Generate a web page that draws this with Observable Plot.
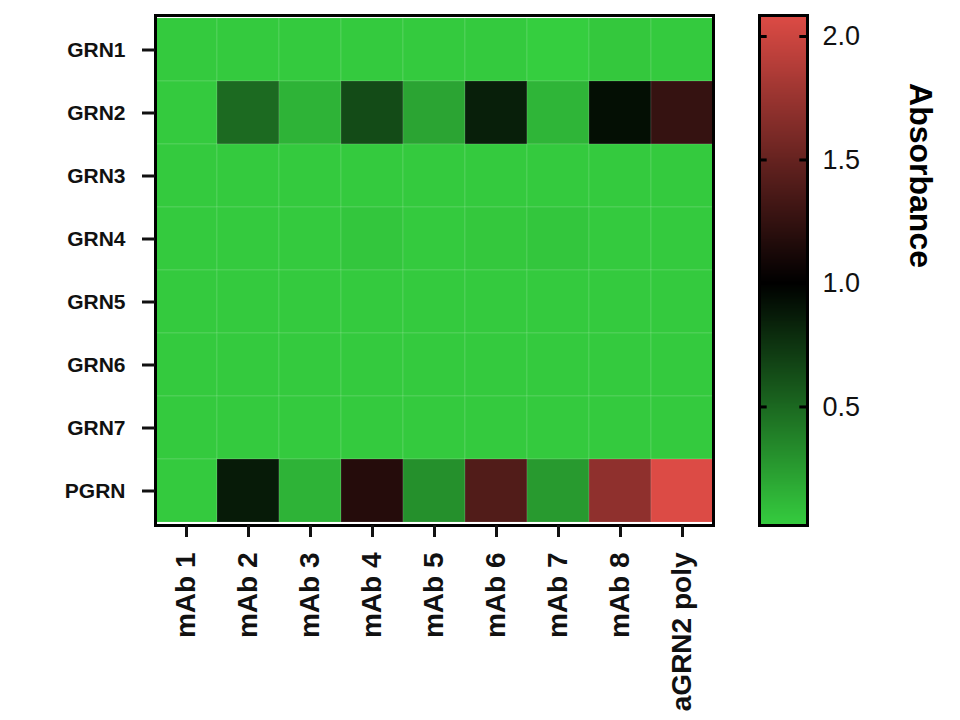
<!DOCTYPE html>
<html>
<head>
<meta charset="utf-8">
<script src="https://cdn.jsdelivr.net/npm/d3@7"></script>
<script src="https://cdn.jsdelivr.net/npm/@observablehq/plot@0.6"></script>
<style>
  html, body { margin: 0; padding: 0; background: #fff; }
  #wrap { position: relative; width: 960px; height: 720px; font-family: "Liberation Sans", Arial, Helvetica, sans-serif; }
  #main { position: absolute; left: 0; top: 0; }
  #bar { position: absolute; left: 740px; top: 0; }
</style>
</head>
<body>
<div id="wrap"><div id="main"></div><div id="bar"></div></div>
<script>
// Categories
const antigens = ["GRN1", "GRN2", "GRN3", "GRN4", "GRN5", "GRN6", "GRN7", "PGRN"];
const antibodies = ["mAb 1", "mAb 2", "mAb 3", "mAb 4", "mAb 5", "mAb 6", "mAb 7", "mAb 8", "aGRN2 poly"];

// Absorbance values, one array per antigen row, in antibody order
const grn1 = [0.03, 0.03, 0.03, 0.03, 0.03, 0.03, 0.01, 0.04, 0.03];
const grn2 = [0.03, 0.49, 0.14, 0.64, 0.21, 0.85, 0.13, 0.93, 1.26];
const grn3 = [0.03, 0.03, 0.03, 0.03, 0.03, 0.03, 0.03, 0.03, 0.03];
const grn4 = [0.03, 0.03, 0.03, 0.05, 0.03, 0.04, 0.05, 0.03, 0.03];
const grn5 = [0.03, 0.03, 0.03, 0.03, 0.03, 0.03, 0.03, 0.03, 0.03];
const grn6 = [0.03, 0.03, 0.03, 0.03, 0.03, 0.03, 0.03, 0.03, 0.03];
const grn7 = [0.03, 0.03, 0.03, 0.03, 0.03, 0.03, 0.03, 0.03, 0.03];
const pgrn = [0.03, 0.87, 0.14, 1.18, 0.31, 1.40, 0.26, 1.70, 2.08];
const rowValues = [grn1, grn2, grn3, grn4, grn5, grn6, grn7, pgrn];

// Colour bar
const colorDomain = [0, 1, 2.085];
const colorRange = ["#36d040", "#000000", "#dd4b45"];
const barTicks = [0.5, 1.0, 1.5, 2.0];
const barExtent = [0.02, 2.085];
const legendTitle = "Absorbance";

const data = [];
antigens.forEach((g, i) => antibodies.forEach((a, j) => data.push({antigen: g, antibody: a, value: rowValues[i][j]})));

const colorScale = {type: "linear", domain: colorDomain, range: colorRange, interpolate: "rgb"};
const font = "'Liberation Sans', Arial, Helvetica, sans-serif";

const main = Plot.plot({
  width: 740,
  height: 720,
  marginLeft: 155,
  marginRight: 27,
  marginTop: 15,
  marginBottom: 195,
  style: {fontFamily: font, color: "#111", background: "white"},
  x: {domain: antibodies, padding: 0, label: null},
  y: {domain: antigens, padding: 0, label: null},
  color: colorScale,
  marks: [
    Plot.cell(data, {x: "antibody", y: "antigen", fill: "value", inset: 0, stroke: "rgba(255,255,255,0.13)", strokeWidth: 1}),
    Plot.frame({stroke: "black", strokeWidth: 3}),
    Plot.axisY({tickSize: 13, tickPadding: 17, fontSize: 21, fontWeight: "bold", strokeWidth: 3, label: null}),
    Plot.axisX({tickRotate: -90, tickSize: 12, tickPadding: 15, fontSize: 28, fontWeight: "bold", strokeWidth: 3, label: null})
  ]
});
document.getElementById("main").appendChild(main);

const step = 0.004;
const stops = d3.range(barExtent[0], barExtent[1], step);
const bar = Plot.plot({
  width: 220,
  height: 720,
  marginLeft: 19,
  marginRight: 153,
  marginTop: 15,
  marginBottom: 195,
  style: {fontFamily: font, color: "#111", background: "white"},
  x: {domain: [0, 1], axis: null},
  y: {domain: barExtent, label: null},
  color: colorScale,
  marks: [
    Plot.rect(stops, {x1: 0, x2: 1, y1: d => d, y2: d => Math.min(d + 2.5 * step, barExtent[1]), fill: d => d + step / 2, shapeRendering: "crispEdges"}),
    Plot.ruleY(barTicks, {x1: 0, x2: 0.16, stroke: "black", strokeWidth: 3}),
    Plot.ruleY(barTicks, {x1: 0.84, x2: 1, stroke: "black", strokeWidth: 3}),
    Plot.frame({stroke: "black", strokeWidth: 3}),
    Plot.axisY(barTicks, {anchor: "right", tickSize: 0, tickPadding: 15, fontSize: 27, tickFormat: d3.format(".1f"), label: null}),
    Plot.text([legendTitle], {frameAnchor: "right", rotate: 90, dx: 113, dy: -95, fontSize: 32, fontWeight: "bold", textAnchor: "middle", fill: "black"})
  ]
});
document.getElementById("bar").appendChild(bar);
</script>
</body>
</html>
